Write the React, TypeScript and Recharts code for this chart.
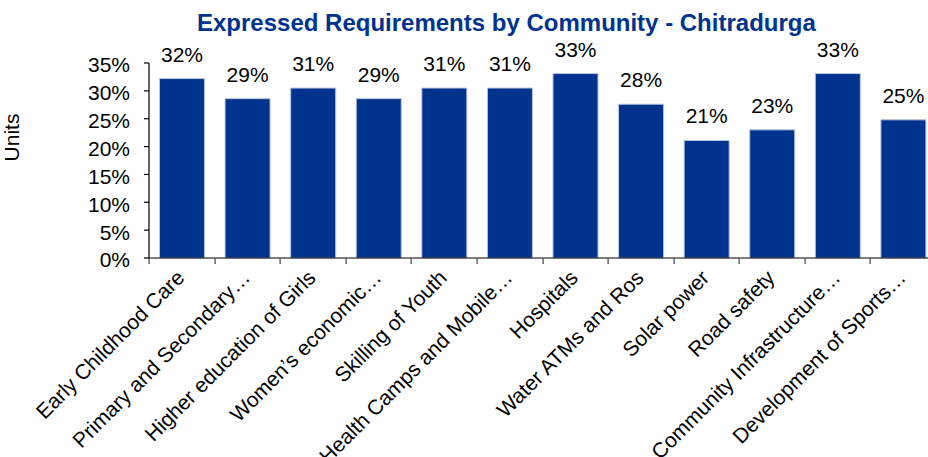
import React from "react";
import { Bar, BarChart, XAxis, YAxis, LabelList } from "recharts";

const categories = [
  "Early Childhood Care",
  "Primary and Secondary…",
  "Higher education of Girls",
  "Women’s economic…",
  "Skilling of Youth",
  "Health Camps and Mobile…",
  "Hospitals",
  "Water ATMs and Ros",
  "Solar power",
  "Road safety",
  "Community Infrastructure…",
  "Development of Sports…",
];
const shares = [32.2, 28.6, 30.5, 28.6, 30.5, 30.5, 33.1, 27.6, 21.1, 23.0, 33.1, 24.8];
const yTicks = [0, 5, 10, 15, 20, 25, 30, 35];

const data = categories.map((name, i) => ({ name, value: shares[i] }));

const FONT = "Arial, 'Liberation Sans', sans-serif";
const BLUE = "#00338D";
const CHART_W = 940;
const LEFT = 149;
const RIGHT = 4;
const BAND = (CHART_W - LEFT - RIGHT) / categories.length;

// rotated label plus the tick mark on the left edge of each category
const CategoryTick = (props: any) => {
  const { x, y, payload } = props;
  const ax = x + 4;
  const ay = y + 21;
  const edge = Math.round(x - BAND / 2);
  return (
    <g>
      <rect x={edge - 0.5} y={y} width={1.2} height={6} fill="#444" />
      <text
        x={ax}
        y={ay}
        transform={`rotate(-45 ${ax} ${ay})`}
        textAnchor="end"
        fontSize={21}
        fontFamily={FONT}
        fill="#000"
      >
        {payload.value}
      </text>
    </g>
  );
};

export default function App() {
  return (
    <div style={{ position: "fixed", left: 0, top: 0, width: 928, height: 457, overflow: "hidden", background: "#fff" }}>
      <div
        style={{
          position: "absolute",
          left: 197,
          top: 11,
          fontFamily: FONT,
          fontWeight: "bold",
          fontSize: 24,
          lineHeight: "24px",
          color: BLUE,
          whiteSpace: "nowrap",
        }}
      >
        Expressed Requirements by Community - Chitradurga
      </div>
      <div style={{ position: "absolute", left: 0, top: 0 }}>
        <BarChart width={CHART_W} height={457} data={data} margin={{ top: 63, right: RIGHT, left: 0, bottom: 0 }} barCategoryGap="16%">
          <XAxis
            dataKey="name"
            interval={0}
            height={199}
            tickSize={0}
            tickMargin={0}
            stroke="#000"
            axisLine={{ stroke: "#000", strokeWidth: 1.2 }}
            tickLine={false}
            tick={<CategoryTick />}
          />
          <YAxis
            domain={[0, 35]}
            ticks={yTicks}
            interval={0}
            width={LEFT}
            tickSize={5}
            tickMargin={14}
            stroke="#000"
            axisLine={{ stroke: "#000", strokeWidth: 1.2 }}
            tickLine={{ stroke: "#000", strokeWidth: 1.2 }}
            tickFormatter={(v: number) => `${v}%`}
            tick={{ fontSize: 21, fontFamily: FONT, fill: "#000", dy: 2 }}
            label={{
              value: "Units",
              angle: -90,
              position: "insideLeft",
              offset: 12,
              dy: -23,
              style: { fontSize: 21, fontFamily: FONT, fill: "#000", textAnchor: "middle" },
            }}
          />
          <Bar
            dataKey="value"
            fill={BLUE}
            stroke="#b9c3dc"
            strokeWidth={1}
            isAnimationActive={false}
          >
            <LabelList
              dataKey="value"
              position="top"
              offset={17}
              formatter={(v: number) => `${Math.round(v)}%`}
              style={{ fontSize: 21, fontFamily: FONT, fill: "#000" }}
            />
          </Bar>
        </BarChart>
      </div>
    </div>
  );
}
